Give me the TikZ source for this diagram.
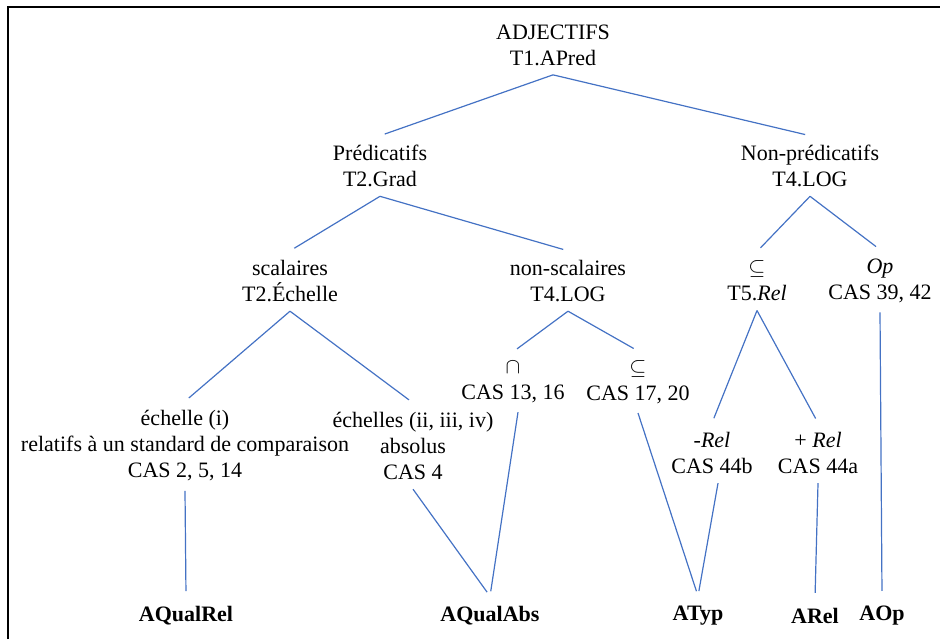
\documentclass[tikz,border=0pt]{standalone}
\usepackage{fontspec}
\setmainfont{Liberation Serif}
\usepackage{xcolor}
\usepackage{tikz}
\usetikzlibrary{positioning}
\definecolor{edgeblue}{RGB}{68,114,196}
\tikzset{
	% intermediate categories
	cat/.style={
		align=center,
		inner xsep=1pt,
		inner ysep=4.5pt
	}, %
	% final classes
	leaf/.style={
		font=\fontsize{11}{13}\selectfont\bfseries,
		inner ysep=5pt
	}, %
	% tree branches
	branch/.style={
		draw=edgeblue,
		line width=0.6pt,
		shorten >=2.5pt
	} %
}
\newcommand{\rel}{\textit{Rel}}

\begin{document}
\begin{tikzpicture}[x=0.5pt, y=-0.5pt, font=\fontsize{11}{13}\selectfont]
	\useasboundingbox (0,0) rectangle (940,639);
	\draw [line width=1pt] (8,639) -- (8,7) -- (940,7);

	%% T1, T2, T4
	\node [cat] (root) at (553,45) {ADJECTIFS\\T1.APred};
	\node [cat] (pred) at (380,166) {Prédicatifs\\T2.Grad};
	\node [cat] (nonpred) at (810,166) {Non-prédicatifs\\T4.LOG};

	%% third level
	\node [cat] (scal) at (290,281) {scalaires\\T2.Échelle};
	\node [cat] (nonscal) at (568,281) {non-scalaires\\T4.LOG};
	\node [cat] (incl) at (757,281) {$\subseteq$\\T5.\rel};
	\node [cat] (op) at (880,281) {\textit{Op}\\CAS 39, 42};

	%% fourth level
	\node [cat] (inter) at (513,382) {$\cap$\\CAS 13, 16};
	\node [cat] (typ) at (638,382) {$\subseteq$\\CAS 17, 20};
	\node [cat] (ech1) at (185,446) {échelle (i)\\relatifs à un standard de comparaison\\CAS 2, 5, 14};
	\node [cat] (ech2) at (413,446) {échelles (ii, iii, iv)\\absolus\\CAS 4};
	\node [cat] (mrel) at (712,453) {-\rel\\CAS 44b};
	\node [cat] (prel) at (818,453) {+ \rel\\CAS 44a};

	%% classes
	\node [leaf] (aqualrel) at (186,616) {AQualRel};
	\node [leaf] (aqualabs) at (490,616) {AQualAbs};
	\node [leaf] (atyp) at (698,616) {ATyp};
	\node [leaf] (arel) at (815,616) {ARel};
	\node [leaf] (aop) at (882,616) {AOp};

	%% branches
	\foreach \a/\b in {root/pred, root/nonpred, pred/scal, pred/nonscal,
		nonpred/incl, nonpred/op, scal/ech1, scal/ech2, nonscal/inter,
		nonscal/typ, incl/mrel, incl/prel} {
		\draw [branch] (\a.south) -- (\b.north);
	}
	\draw [branch] (ech1.south) -- (aqualrel.north);
	\draw [branch] (ech2.south) -- (aqualabs.north);
	\draw [branch] ([xshift=2.5pt]inter.south) -- (aqualabs.north);
	\draw [branch] (typ.south) -- (atyp.north);
	\draw [branch] ([xshift=3pt]mrel.south) -- (atyp.north);
	\draw [branch] (prel.south) -- (arel.north);
	\draw [branch] (op.south) -- (aop.north);
\end{tikzpicture}
\end{document}
